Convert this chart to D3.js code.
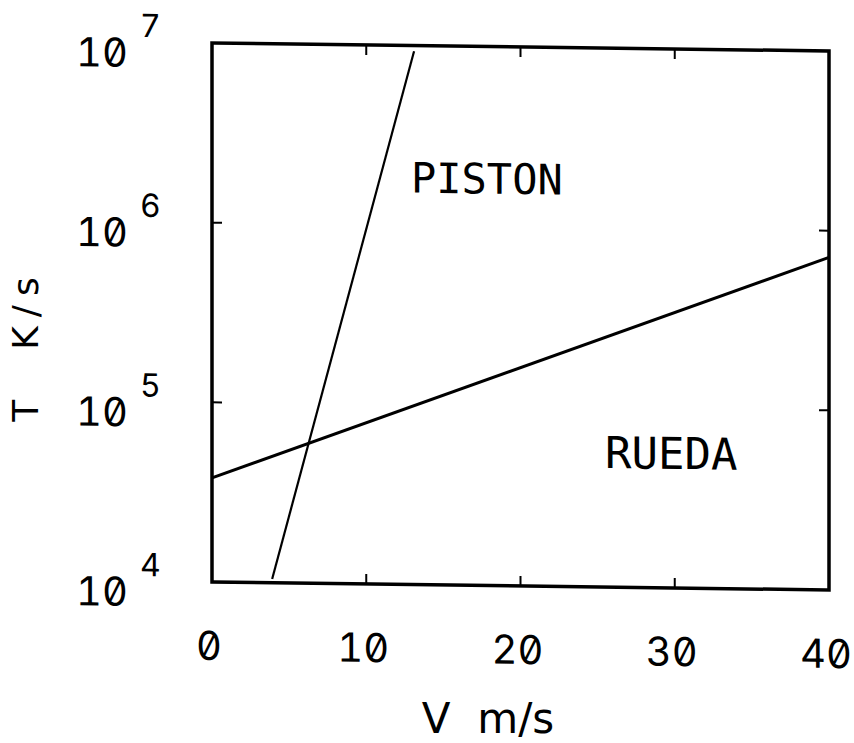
<!DOCTYPE html>
<html>
<head>
<meta charset="utf-8">
<script src="https://cdn.jsdelivr.net/npm/d3@7/dist/d3.min.js"></script>
<style>
  html, body { margin: 0; padding: 0; background: #fff; }
  svg { display: block; }
  .num { font-family: Inter, "DejaVu Sans", sans-serif; font-feature-settings: "zero" 1, "tnum" 1; fill: #000; }
  .lbl { font-family: "DejaVu Sans Mono", monospace; fill: #000; }
  .ttl { font-family: "DejaVu Sans", sans-serif; fill: #000; white-space: pre; }
</style>
</head>
<body>
<script>
// Velocity (m/s) on the x axis, heating rate T (K/s) on a log y axis
const vTicks = [0, 10, 20, 30, 40];
const tTicks = [1e4, 1e5, 1e6, 1e7];
const tExponents = ["4", "5", "6", "7"];

// Two regimes, each a straight line on the semi-log plot
const ruedaV = [0, 40];
const ruedaT = [3.8e4, 7.1e5];
const pistonV = [3.9, 13.1];
const pistonT = [1.05e4, 9.3e6];

const W = 854, H = 743;
const plotLeft = 212, plotRight = 829, plotTop = 43, plotBottom = 582;

const svg = d3.select("body").append("svg").attr("width", W).attr("height", H);

const x = d3.scaleLinear().domain([0, 40]).range([plotLeft, plotRight]);
const y = d3.scaleLog().domain([1e4, 1e7]).range([plotBottom, plotTop]);

// slight plotter skew of the whole drawing
const g = svg.append("g")
  .attr("transform", `translate(${plotLeft},0) skewY(0.74) translate(${-plotLeft},0)`);

// frame
g.append("rect")
  .attr("x", plotLeft).attr("y", plotTop)
  .attr("width", plotRight - plotLeft).attr("height", plotBottom - plotTop)
  .attr("fill", "none").attr("stroke", "#000").attr("stroke-width", 3.5);

// inward ticks
const tickLen = 10;
const innerV = vTicks.slice(1, -1);
const innerT = tTicks.slice(1, -1);
g.selectAll(".tb").data(innerV).enter().append("line")
  .attr("x1", d => x(d)).attr("x2", d => x(d))
  .attr("y1", plotBottom).attr("y2", plotBottom - tickLen)
  .attr("stroke", "#000").attr("stroke-width", 2);
g.selectAll(".tt").data(innerV).enter().append("line")
  .attr("x1", d => x(d)).attr("x2", d => x(d))
  .attr("y1", plotTop).attr("y2", plotTop + tickLen)
  .attr("stroke", "#000").attr("stroke-width", 2);
g.selectAll(".tl").data(innerT).enter().append("line")
  .attr("x1", plotLeft).attr("x2", plotLeft + tickLen)
  .attr("y1", d => y(d)).attr("y2", d => y(d))
  .attr("stroke", "#000").attr("stroke-width", 2);
g.selectAll(".tr").data(innerT).enter().append("line")
  .attr("x1", plotRight).attr("x2", plotRight - tickLen)
  .attr("y1", d => y(d)).attr("y2", d => y(d))
  .attr("stroke", "#000").attr("stroke-width", 2);

// x tick labels
g.selectAll(".xl").data(vTicks).enter().append("text")
  .attr("class", "num")
  .attr("x", d => x(d) - 3).attr("y", 660)
  .attr("text-anchor", "middle")
  .attr("font-size", 40)
  .text(d => String(d));

// y tick labels: 10 with superscript exponent
tTicks.forEach((t, i) => {
  g.append("text").attr("class", "num")
    .attr("x", 128).attr("y", y(t) + 25)
    .attr("text-anchor", "end").attr("font-size", 40)
    .text("10");
  g.append("text").attr("class", "num")
    .attr("x", 140).attr("y", y(t) - 5)
    .attr("font-size", 32)
    .text(tExponents[i]);
});

const line = d3.line().x(d => x(d[0])).y(d => y(d[1]));

g.append("path")
  .datum(ruedaV.map((v, i) => [v, ruedaT[i]]))
  .attr("d", line).attr("fill", "none")
  .attr("stroke", "#000").attr("stroke-width", 3);

g.append("path")
  .datum(pistonV.map((v, i) => [v, pistonT[i]]))
  .attr("d", line).attr("fill", "none")
  .attr("stroke", "#000").attr("stroke-width", 2.2);

// region labels
g.append("text").attr("class", "lbl")
  .attr("x", 411).attr("y", 190).attr("font-size", 42)
  .text("PISTON");
g.append("text").attr("class", "lbl")
  .attr("x", 605).attr("y", 463).attr("font-size", 44)
  .text("RUEDA");

// axis titles
svg.append("text").attr("class", "ttl")
  .attr("x", 488).attr("y", 733)
  .attr("text-anchor", "middle").attr("font-size", 42)
  .text("V  m/s");
svg.append("text").attr("class", "ttl")
  .attr("transform", "translate(38,345) rotate(-90)")
  .attr("text-anchor", "middle").attr("font-size", 36)
  .attr("letter-spacing", 9)
  .text("T  K/s");
</script>
</body>
</html>
